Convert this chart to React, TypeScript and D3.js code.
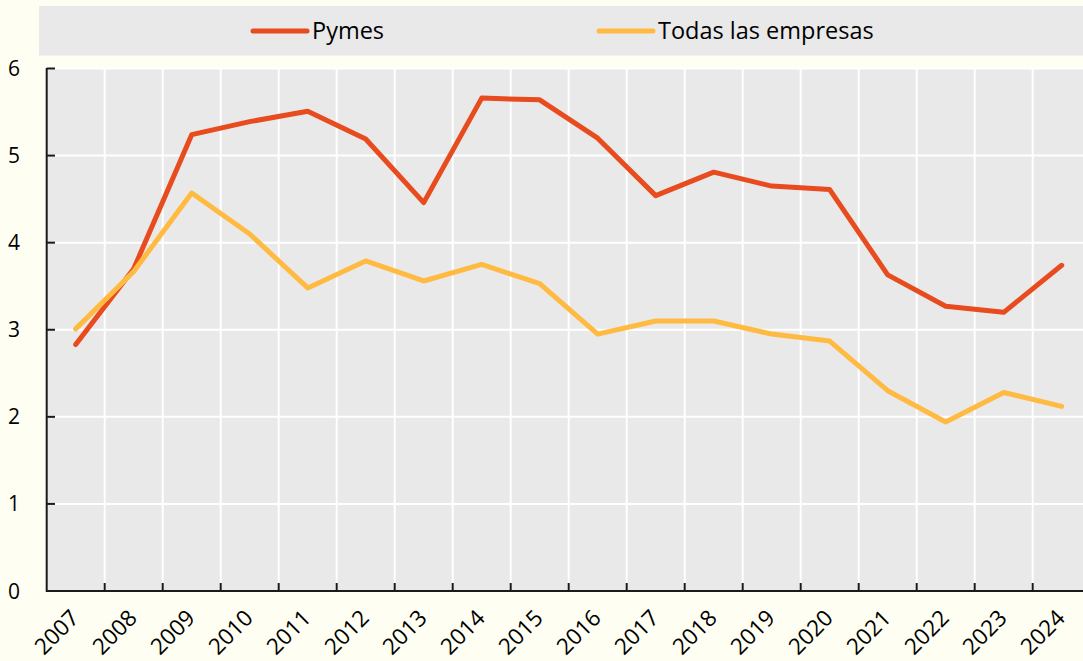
import React from "react";
import * as d3 from "d3";

const years = ["2007","2008","2009","2010","2011","2012","2013","2014","2015","2016","2017","2018","2019","2020","2021","2022","2023","2024"];
const pymes = [2.83,3.70,5.24,5.39,5.51,5.19,4.46,5.66,5.64,5.20,4.54,4.81,4.65,4.61,3.63,3.27,3.20,3.74];
const todas = [3.01,3.67,4.57,4.10,3.48,3.79,3.56,3.75,3.53,2.95,3.10,3.10,2.95,2.87,2.30,1.94,2.28,2.12];
const yTicks = [0,1,2,3,4,5,6];
const seriesNames = ["Pymes","Todas las empresas"];
const seriesColors = ["#E84B1E","#FFBA42"];

const W = 1083, H = 661;
const FONT = "'Open Sans', 'Noto Sans', sans-serif";

export default function App() {
  const x = d3.scaleBand<string>().domain(years).range([46.7, 1090.7]).paddingInner(0).paddingOuter(0);
  const y = d3.scaleLinear().domain([0, 6]).range([591, 68.5]);
  const cx = (d: string) => (x(d) as number) + x.bandwidth() / 2;
  const line = d3.line<number>()
    .x((_, i) => cx(years[i]))
    .y((v) => y(v));
  const data = [pymes, todas];
  const bounds = years.map((yr) => x(yr) as number).concat([1090.7]);

  return (
    <svg width={W} height={H} style={{ position: "absolute", left: 0, top: 0, background: "#FEFEF3" }}>
      <rect x={0} y={0} width={W} height={H} fill="#FEFEF3" />
      {/* legend box */}
      <rect x={39} y={6} width={W - 39} height={49.5} fill="#E9E9E9" />
      {seriesNames.map((n, i) => {
        const lx = i === 0 ? 253 : 599;
        return (
          <g key={n}>
            <line x1={lx} x2={lx + 54} y1={31} y2={31} stroke={seriesColors[i]} strokeWidth={5} strokeLinecap="round" />
            <text x={lx + 59} y={38.5} fontFamily={FONT} fontSize={23.5} fill="#000">{n}</text>
          </g>
        );
      })}
      {/* plot area */}
      <rect x={46.7} y={68.5} width={1090.7 - 46.7} height={591 - 68.5} fill="#E9E9E9" />
      {bounds.slice(1).map((b, i) => (
        <line key={"vg" + i} x1={b} x2={b} y1={68.5} y2={591} stroke="#fff" strokeWidth={2} />
      ))}
      {yTicks.slice(1).map((t) => (
        <line key={"hg" + t} x1={46.7} x2={1090.7} y1={y(t)} y2={y(t)} stroke="#fff" strokeWidth={2} />
      ))}
      {/* y-axis */}
      <line x1={46.7} x2={46.7} y1={68} y2={592} stroke="#1a1a1a" strokeWidth={2} />
      {yTicks.map((t) => (
        <g key={"yt" + t}>
          <line x1={46.7} x2={55} y1={y(t)} y2={y(t)} stroke="#1a1a1a" strokeWidth={2} />
          <text x={14} y={y(t)} dy="0.36em" textAnchor="middle" fontFamily={FONT} fontSize={21} fill="#000">{t}</text>
        </g>
      ))}
      {/* x-axis */}
      <line x1={46} x2={1090.7} y1={591} y2={591} stroke="#1a1a1a" strokeWidth={2} />
      {bounds.slice(1).map((b, i) => (
        <line key={"xt" + i} x1={b} x2={b} y1={583} y2={591} stroke="#1a1a1a" strokeWidth={2} />
      ))}
      {years.map((yr) => (
        <text key={"xl" + yr} transform={`translate(${cx(yr) + 4.7},${619.5}) rotate(-45)`} textAnchor="end"
          fontFamily={FONT} fontSize={22.5} fill="#000">{yr}</text>
      ))}
      {/* lines */}
      {data.map((s, i) => (
        <path key={"s" + i} d={line(s) as string} fill="none" stroke={seriesColors[i]} strokeWidth={5}
          strokeLinejoin="round" strokeLinecap="round" />
      ))}
    </svg>
  );
}
